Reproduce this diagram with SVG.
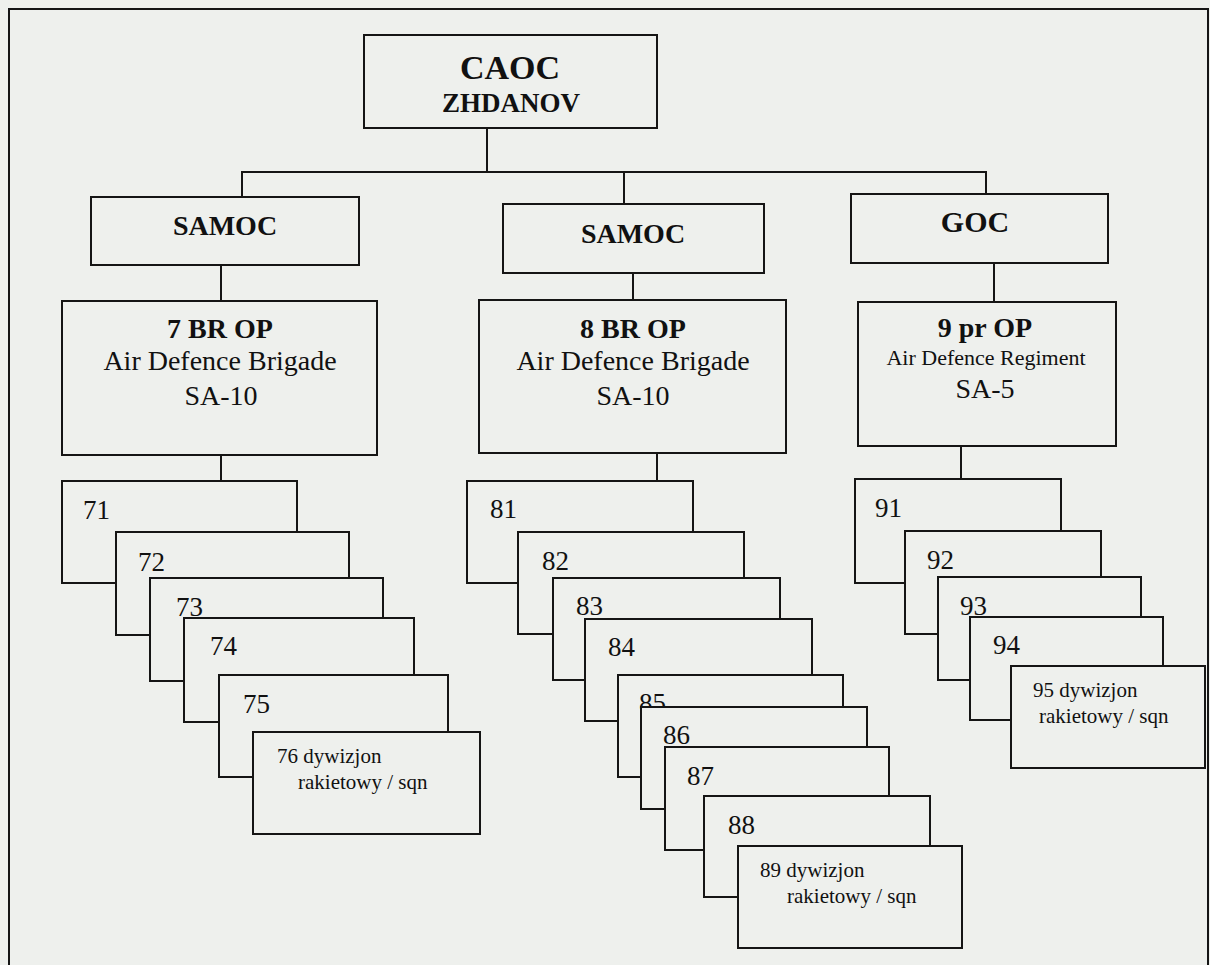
<svg xmlns="http://www.w3.org/2000/svg" width="1210" height="965" viewBox="0 0 1210 965">
<style>
.bg{fill:#eef0ed}
.box{fill:#eef0ed;stroke:#151515;stroke-width:2}
.ln{stroke:#151515;stroke-width:2;fill:none}
.t{font-family:"Liberation Serif","Times New Roman",serif;fill:#111}
.b{font-weight:bold}
.c{text-anchor:middle}
.n{font-size:27px}
.s{font-size:21px}
.m{font-size:28px}
</style>
<rect class="bg" x="0" y="0" width="1210" height="965"/>
<g id="frame">
<path class="ln" d="M9,965 V9 H1208 V965"/>
</g>
<g id="connectors">
<path class="ln" d="M487,128 V172"/>
<path class="ln" d="M242,197 V172 H986 V194"/>
<path class="ln" d="M624,172 V204"/>
<path class="ln" d="M221,265 V301"/>
<path class="ln" d="M633,273 V300"/>
<path class="ln" d="M994,263 V302"/>
<path class="ln" d="M221,455 V481"/>
<path class="ln" d="M657,453 V481"/>
<path class="ln" d="M961,446 V479"/>
</g>
<g id="caoc">
<rect class="box" x="364" y="35" width="293" height="93"/>
<text class="t b c" x="510" y="79" font-size="34">CAOC</text>
<text class="t b c" x="511" y="112" font-size="27">ZHDANOV</text>
</g>
<g id="samoc1">
<rect class="box" x="91" y="197" width="268" height="68"/>
<text class="t b c m" x="225" y="235">SAMOC</text>
</g>
<g id="samoc2">
<rect class="box" x="503" y="204" width="261" height="69"/>
<text class="t b c m" x="633" y="243">SAMOC</text>
</g>
<g id="goc">
<rect class="box" x="851" y="194" width="257" height="69"/>
<text class="t b c" x="975" y="232" font-size="30">GOC</text>
</g>
<g id="br7">
<rect class="box" x="62" y="301" width="315" height="154"/>
<text class="t b c m" x="220" y="338">7 BR OP</text>
<text class="t c m" x="220" y="370">Air Defence Brigade</text>
<text class="t c m" x="221" y="405">SA-10</text>
</g>
<g id="br8">
<rect class="box" x="479" y="300" width="307" height="153"/>
<text class="t b c m" x="633" y="338">8 BR OP</text>
<text class="t c m" x="633" y="370">Air Defence Brigade</text>
<text class="t c m" x="633" y="405">SA-10</text>
</g>
<g id="pr9">
<rect class="box" x="858" y="302" width="258" height="144"/>
<text class="t b c m" x="985" y="337">9 pr OP</text>
<text class="t c" x="986" y="365" font-size="22">Air Defence Regiment</text>
<text class="t c m" x="985" y="398">SA-5</text>
</g>
<g id="n71"><rect class="box" x="62" y="481" width="235" height="102"/><text class="t n" x="83" y="519">71</text></g>
<g id="n72"><rect class="box" x="116" y="532" width="233" height="103"/><text class="t n" x="138" y="571">72</text></g>
<g id="n73"><rect class="box" x="150" y="578" width="233" height="103"/><text class="t n" x="176" y="616">73</text></g>
<g id="n74"><rect class="box" x="184" y="618" width="230" height="104"/><text class="t n" x="210" y="655">74</text></g>
<g id="n75"><rect class="box" x="219" y="675" width="229" height="102"/><text class="t n" x="243" y="713">75</text></g>
<g id="n76"><rect class="box" x="253" y="732" width="227" height="102"/><text class="t s" x="277" y="763">76 dywizjon</text><text class="t s" x="298" y="789">rakietowy / sqn</text></g>
<g id="n81"><rect class="box" x="467" y="481" width="226" height="102"/><text class="t n" x="490" y="518">81</text></g>
<g id="n82"><rect class="box" x="518" y="532" width="226" height="102"/><text class="t n" x="542" y="570">82</text></g>
<g id="n83"><rect class="box" x="553" y="578" width="227" height="102"/><text class="t n" x="576" y="615">83</text></g>
<g id="n84"><rect class="box" x="585" y="619" width="227" height="102"/><text class="t n" x="608" y="656">84</text></g>
<g id="n85"><rect class="box" x="618" y="675" width="225" height="102"/><text class="t n" x="639" y="712">85</text></g>
<g id="n86"><rect class="box" x="641" y="707" width="226" height="102"/><text class="t n" x="663" y="744">86</text></g>
<g id="n87"><rect class="box" x="665" y="747" width="224" height="103"/><text class="t n" x="687" y="785">87</text></g>
<g id="n88"><rect class="box" x="704" y="796" width="226" height="101"/><text class="t n" x="728" y="834">88</text></g>
<g id="n89"><rect class="box" x="738" y="846" width="224" height="102"/><text class="t s" x="760" y="877">89 dywizjon</text><text class="t s" x="787" y="903">rakietowy / sqn</text></g>
<g id="n91"><rect class="box" x="855" y="479" width="206" height="104"/><text class="t n" x="875" y="517">91</text></g>
<g id="n92"><rect class="box" x="905" y="531" width="196" height="103"/><text class="t n" x="927" y="569">92</text></g>
<g id="n93"><rect class="box" x="938" y="577" width="203" height="103"/><text class="t n" x="960" y="615">93</text></g>
<g id="n94"><rect class="box" x="970" y="617" width="193" height="103"/><text class="t n" x="993" y="654">94</text></g>
<g id="n95"><rect class="box" x="1011" y="666" width="194" height="102"/><text class="t s" x="1033" y="697">95 dywizjon</text><text class="t s" x="1039" y="723">rakietowy / sqn</text></g>
</svg>
